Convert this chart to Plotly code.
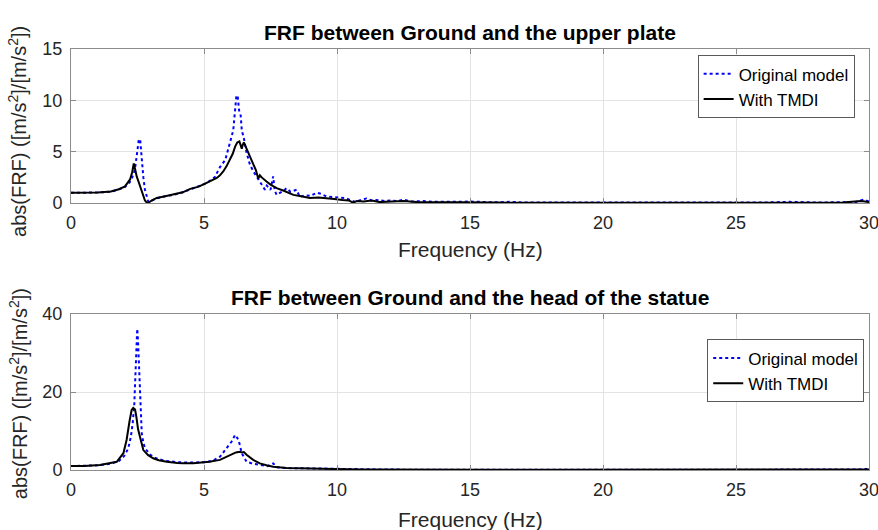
import plotly.graph_objects as go

# ---------------- data ----------------
top_orig_f = [0, 0.5, 1.0, 1.5, 1.8, 2.0, 2.2, 2.3, 2.4, 2.45, 2.5, 2.55, 2.6, 2.66, 2.72, 2.78, 2.85, 2.91,
              3.0, 3.2, 3.5, 3.85, 4.2, 4.5, 4.8, 5.1, 5.4, 5.6, 5.8, 5.95, 6.05, 6.1, 6.17, 6.22, 6.27, 6.32,
              6.38, 6.42, 6.5, 6.6, 6.72, 6.85, 7.0, 7.1, 7.17, 7.29, 7.36, 7.42, 7.5, 7.6, 7.66, 7.73, 7.86,
              8.0, 8.1, 8.25, 8.48, 8.6, 8.8, 9.0, 9.24, 9.4, 9.6, 9.8, 10.1, 10.3, 10.5, 10.7, 10.9, 11.1,
              11.3, 11.5, 11.8, 12.0, 12.3, 12.5, 12.8, 13.2, 13.6, 14.0, 14.5, 15.0, 15.5, 16.0, 16.5, 17.0,
              18, 19, 20, 21, 22, 23, 24, 25, 26, 27, 28, 29, 29.5, 29.8, 30]
top_orig_v = [1.0, 1.0, 1.03, 1.1, 1.3, 1.5, 2.0, 2.5, 3.2, 4.2, 5.5, 6.2, 6.2, 4.0, 2.5, 1.3, 0.5, 0.1,
              0.2, 0.45, 0.65, 0.8, 1.05, 1.35, 1.65, 1.95, 2.5, 3.5, 4.2, 5.5, 6.6, 7.1, 9.6, 10.5, 10.3, 9.0,
              8.5, 7.1, 6.3, 4.9, 3.8, 3.1, 2.5, 2.1, 1.9, 1.3, 1.7, 1.5, 1.3, 2.6, 1.2, 0.8, 1.0,
              1.2, 1.45, 1.1, 1.3, 0.6, 0.75, 0.7, 1.0, 0.9, 0.65, 0.6, 0.55, 0.5, 0.3, 0.1, 0.3, 0.45,
              0.25, 0.3, 0.2, 0.25, 0.2, 0.35, 0.15, 0.2, 0.12, 0.1, 0.12, 0.15, 0.08, 0.07, 0.12, 0.06,
              0.06, 0.05, 0.08, 0.05, 0.06, 0.04, 0.05, 0.06, 0.05, 0.12, 0.06, 0.08, 0.1, 0.35, 0.15]

top_tmdi_f = [0, 0.5, 1.0, 1.5, 1.8, 2.03, 2.22, 2.3, 2.36, 2.42, 2.47, 2.55, 2.66, 2.72, 2.78, 2.85, 2.9,
              3.0, 3.22, 3.5, 3.85, 4.2, 4.46, 4.8, 5.08, 5.3, 5.48, 5.6, 5.73, 5.85, 5.98, 6.08, 6.17, 6.25,
              6.33, 6.38, 6.42, 6.46, 6.5, 6.55, 6.6, 6.72, 6.85, 6.95, 7.04, 7.1, 7.17, 7.25, 7.35, 7.5,
              7.73, 8.0, 8.36, 8.6, 8.98, 9.3, 9.6, 9.9, 10.2, 10.45, 10.6, 10.75, 11.0, 11.3, 11.6, 12.0,
              12.5, 13, 13.5, 14, 15, 16, 17, 18, 19, 20, 21, 22, 23, 24, 25, 26, 27, 28, 29, 29.7, 30]
top_tmdi_v = [1.0, 1.0, 1.03, 1.12, 1.35, 1.62, 2.3, 3.0, 3.85, 3.2, 2.6, 2.0, 1.1, 0.6, 0.25, 0.05, 0.0,
              0.2, 0.5, 0.65, 0.82, 1.05, 1.36, 1.6, 1.95, 2.2, 2.45, 2.7, 3.1, 3.6, 4.2, 4.8, 5.5, 5.9,
              6.0, 5.6, 5.3, 5.7, 5.9, 5.6, 5.3, 4.6, 3.9, 3.2, 2.4, 2.7, 2.5, 2.3, 2.1, 1.8,
              1.45, 1.2, 0.8, 0.7, 0.5, 0.55, 0.5, 0.4, 0.3, 0.25, 0.05, 0.2, 0.15, 0.25, 0.1, 0.12,
              0.2, 0.1, 0.08, 0.06, 0.05, 0.05, 0.03, 0.04, 0.03, 0.04, 0.03, 0.04, 0.03, 0.03, 0.04, 0.03,
              0.04, 0.03, 0.05, 0.2, 0.1]

bot_orig_f = [0, 0.5, 1.0, 1.5, 1.8, 2.0, 2.15, 2.25, 2.32, 2.38, 2.43, 2.47, 2.49, 2.52, 2.55, 2.57, 2.62,
              2.66, 2.72, 2.78, 2.9, 3.0, 3.2, 3.5, 4.0, 4.5, 5.0, 5.3, 5.6, 5.85, 6.04, 6.17, 6.22, 6.3,
              6.42, 6.6, 6.85, 7.1, 7.4, 7.6, 7.75, 8.1, 8.6, 9.2, 9.9, 11, 12, 14, 16, 18, 20, 22, 24, 26,
              28, 29.5, 30]
bot_orig_v = [1.0, 1.05, 1.2, 1.6, 2.3, 3.6, 5.5, 8.5, 12, 17, 26, 33, 36.2, 33, 27, 24, 15,
              9.4, 7.0, 5.6, 4.6, 3.8, 3.0, 2.4, 2.0, 1.9, 2.0, 2.3, 3.4, 5.6, 7.3, 9.0, 8.6, 7.7,
              4.3, 2.1, 1.6, 1.3, 1.0, 1.7, 0.7, 0.5, 0.45, 0.4, 0.25, 0.15, 0.1, 0.08, 0.06, 0.06, 0.05,
              0.05, 0.05, 0.05, 0.06, 0.1, 0.3]

bot_tmdi_f = [0, 0.5, 1.09, 1.5, 1.72, 1.97, 2.09, 2.2, 2.28, 2.34, 2.41, 2.46, 2.52, 2.59, 2.66, 2.72,
              2.9, 3.09, 3.3, 3.6, 4.0, 4.23, 4.6, 4.85, 5.2, 5.6, 5.98, 6.2, 6.35, 6.42, 6.5, 6.6, 6.85,
              7.1, 7.35, 7.6, 8.1, 8.6, 9.2, 9.9, 11, 12, 14, 16, 18, 20, 22, 24, 26, 28, 30]
bot_tmdi_v = [1.0, 1.05, 1.3, 1.7, 2.1, 4.3, 7.7, 12.5, 15.4, 15.9, 15.5, 13.5, 10.5, 8.6, 6.5, 5.1,
              3.8, 3.0, 2.5, 2.1, 1.8, 1.7, 1.75, 1.9, 2.1, 2.6, 3.9, 4.5, 4.7, 4.5, 4.6, 3.9, 2.6,
              1.7, 1.2, 0.85, 0.5, 0.4, 0.35, 0.25, 0.15, 0.1, 0.08, 0.06, 0.05, 0.05, 0.05, 0.05, 0.05,
              0.05, 0.15]

x_ticks = [0, 5, 10, 15, 20, 25, 30]
top_y_ticks = [0, 5, 10, 15]
bot_y_ticks = [0, 20, 40]

series_names = ["Original model", "With TMDI"]
titles = ["FRF between Ground and the upper plate", "FRF between Ground and the head of the statue"]
x_title = "Frequency (Hz)"
y_title = "abs(FRF) ([m/s<sup>2</sup>]/[m/s<sup>2</sup>])"

# ---------------- figure ----------------
FONT = "Liberation Sans, Arial, sans-serif"
TXT = "#262626"
AX = "#8c8c8c"
GRID = "#e3e3e3"

fig = go.Figure()
blue = dict(color="#0000ff", width=2, dash="dot")
black = dict(color="#000000", width=2)

fig.add_trace(go.Scatter(x=top_orig_f, y=top_orig_v, mode="lines", line=blue, name=series_names[0],
                         xaxis="x", yaxis="y", legend="legend"))
fig.add_trace(go.Scatter(x=top_tmdi_f, y=top_tmdi_v, mode="lines", line=black, name=series_names[1],
                         xaxis="x", yaxis="y", legend="legend"))
fig.add_trace(go.Scatter(x=bot_orig_f, y=bot_orig_v, mode="lines", line=blue, name=series_names[0],
                         xaxis="x2", yaxis="y2", legend="legend2"))
fig.add_trace(go.Scatter(x=bot_tmdi_f, y=bot_tmdi_v, mode="lines", line=black, name=series_names[1],
                         xaxis="x2", yaxis="y2", legend="legend2"))

def xax(anchor):
    return dict(range=[0, 30], tickvals=x_ticks, showgrid=True, gridcolor=GRID, gridwidth=1,
                showline=True, linecolor=AX, linewidth=1, mirror="ticks", ticks="inside", ticklen=5,
                tickcolor=AX, zeroline=False, anchor=anchor, automargin=False,
                ticklabeloverflow="allow", ticklabelstandoff=3,
                tickfont=dict(family=FONT, size=18, color=TXT))

def yax(anchor, rng, ticks, domain):
    return dict(range=rng, tickvals=ticks, showgrid=True, gridcolor=GRID, gridwidth=1,
                showline=True, linecolor=AX, linewidth=1, mirror="ticks", ticks="inside", ticklen=5,
                tickcolor=AX, zeroline=False, anchor=anchor, domain=domain, automargin=False,
                ticklabeloverflow="allow", ticklabelstandoff=4,
                tickfont=dict(family=FONT, size=18, color=TXT))

legend_common = dict(bgcolor="white", bordercolor="#5a5a5a", borderwidth=1,
                     font=dict(family=FONT, size=17, color="#000000"),
                     xanchor="right", yanchor="top", itemwidth=30, tracegroupgap=0)

def title_ann(text, y):
    return dict(text="<b>" + text + "</b>", xref="paper", yref="paper", x=0.5, y=y, yshift=3,
                xanchor="center", yanchor="bottom", showarrow=False,
                font=dict(family=FONT, size=21, color="#000000"))

def xtitle_ann(y):
    return dict(text=x_title, xref="paper", yref="paper", x=0.5, y=y, xanchor="center",
                yanchor="middle", showarrow=False, font=dict(family=FONT, size=21, color=TXT))

def ytitle_ann(y):
    return dict(text=y_title, xref="paper", yref="paper", x=-0.0664, y=y, xanchor="center",
                yanchor="middle", textangle=-90, showarrow=False,
                font=dict(family=FONT, size=20, color=TXT))

fig.update_layout(
    width=878, height=530,
    margin=dict(l=71, r=9, t=49, b=60, autoexpand=False),
    paper_bgcolor="white", plot_bgcolor="white",
    font=dict(family=FONT, color=TXT),
    xaxis=xax("y"), yaxis=yax("x", [0, 15], top_y_ticks, [0.634, 1.0]),
    xaxis2=xax("y2"), yaxis2=yax("x2", [0, 40], bot_y_ticks, [0.0, 0.3705]),
    legend=dict(x=0.982, y=0.985, **legend_common),
    legend2=dict(x=0.994, y=0.31, **legend_common),
    showlegend=True,
    annotations=[
        title_ann(titles[0], 1.0), title_ann(titles[1], 0.3705),
        xtitle_ann(0.5226), xtitle_ann(-0.1164),
        ytitle_ann(0.803), ytitle_ann(0.18),
    ],
)

fig.write_html("out.html", config={"displayModeBar": False},
               post_script="document.body.style.margin='0';document.body.style.overflow='hidden';")
